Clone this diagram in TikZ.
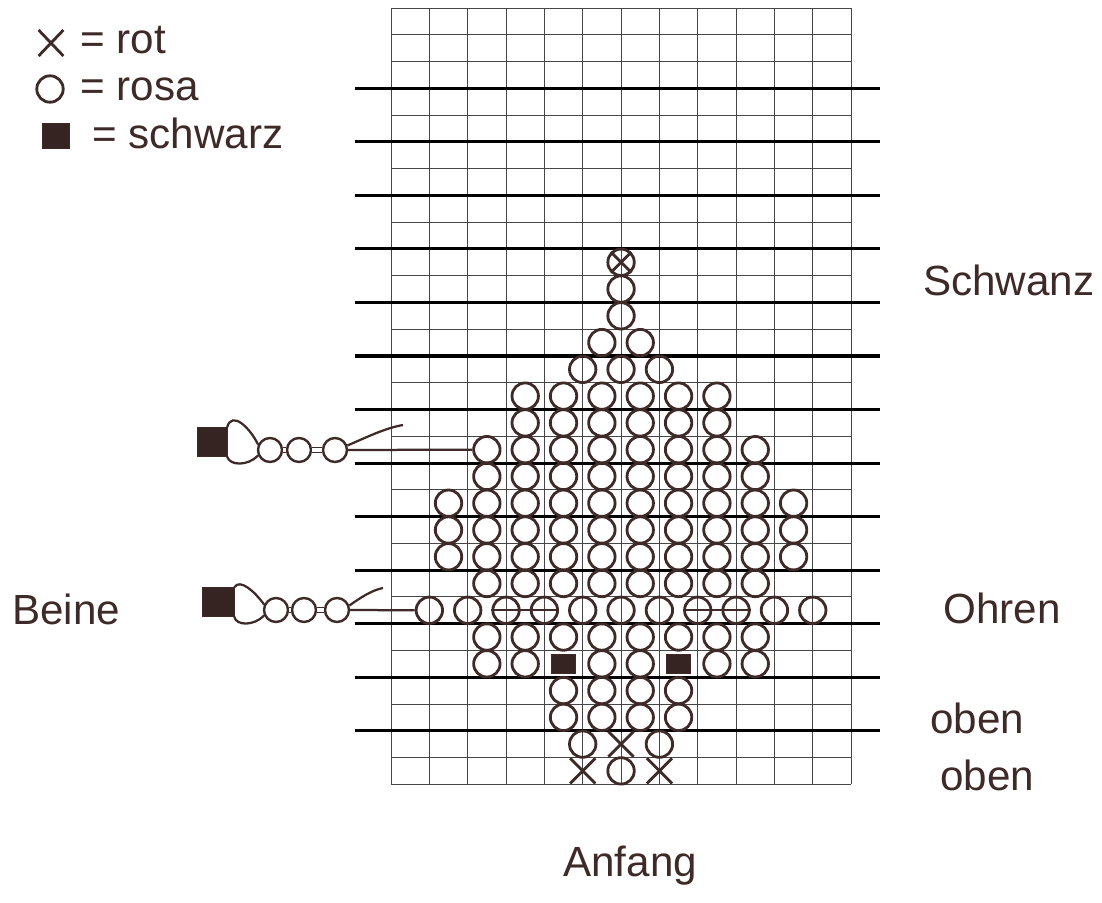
\documentclass[tikz,border=0pt]{standalone}
\usepackage{fontspec}
\setmainfont{Liberation Sans}
\usetikzlibrary{shapes.misc}
\definecolor{Ink}{RGB}{62,42,40}
\definecolor{GridGray}{RGB}{70,70,70}
\tikzset{
  rosa/.style={circle, draw=Ink, line width=2pt, minimum size=0.66cm, inner sep=0pt},
  rot/.style={cross out, draw=Ink, line width=2pt, minimum width=0.56cm, minimum height=0.56cm, inner sep=0pt},
  schwarz/.style={rectangle, draw=Ink, fill=Ink!85!black, minimum width=0.6cm, minimum height=0.46cm, inner sep=0pt},
  legbead/.style={circle, draw=Ink, line width=1.7pt, minimum size=0.6cm, inner sep=0pt},
  thread/.style={draw=Ink, line width=1.6pt},
  link/.style={draw=Ink, double=white, double distance=2.4pt, line width=1pt},
  hand/.style={font=\fontsize{30pt}{36pt}\selectfont, text=Ink, inner sep=0pt, anchor=base west},
  gridline/.style={draw=GridGray, line width=0.6pt},
  rowline/.style={draw=black, line width=2.2pt}
}
\begin{document}
\begin{tikzpicture}[x=0.025cm, y=-0.025cm]
  \path[fill=white, use as bounding box] (0,0) rectangle (1102,902);

  \begin{scope}[shift={(391,8)}, x=0.9583cm, y=-0.669cm]
    \foreach \k in {0,...,12} \draw[gridline] (\k,0) -- (\k,29);
    \foreach \k in {0,...,29} \draw[gridline] (0,\k) -- (12,\k);
    \foreach \k in {3,5,...,27} \draw[rowline] (-0.94,\k) -- (12.76,\k);

    \foreach \r/\a/\b in {12/5/6, 14/3/8, 15/3/8, 16/2/9, 17/2/9, 18/1/10, 19/1/10,
                          20/1/10, 21/2/9, 23/2/9, 25/4/7, 26/4/7}
      \foreach \c in {\a,...,\b}
        \node[rosa] (b\r-\c) at (\c+0.5,\r+0.5) {};
    \foreach \c in {2,3,5,6,8,9} \node[rosa] (b24-\c) at (\c+0.5,24.5) {};
    \foreach \c in {4,7} \node[schwarz] (b24-\c) at (\c+0.5,24.5) {};

    \foreach \r/\a/\b in {10/6/6, 11/6/6, 13/5/7, 22/1/11}
      \foreach \k in {\a,...,\b}
        \node[rosa] (l\r-\k) at (\k,\r+0.5) {};
    \node[rosa] (l9-6) at (6,9.5) {};
    \node[rot, minimum width=0.44cm, minimum height=0.44cm] (x9-6) at (6,9.5) {};
    \node[rosa] (l27-5) at (5,27.5) {};
    \node[rot] (l27-6) at (6,27.5) {};
    \node[rosa] (l27-7) at (7,27.5) {};
    \node[rot] (l28-5) at (5,28.5) {};
    \node[rosa] (l28-6) at (6,28.5) {};
    \node[rot] (l28-7) at (7,28.5) {};

    \draw[thread] (l22-3.west) -- (l22-4.east);
    \draw[thread] (l22-8.west) -- (l22-9.east);
  \end{scope}

  \node[schwarz, minimum width=0.74cm, minimum height=0.72cm] (legAsq) at (212,442) {};
  \node[legbead] (legA1) at (270,450) {};
  \node[legbead] (legA2) at (299,450) {};
  \node[legbead] (legA3) at (335,450) {};
  \coordinate (legAend) at (403,425);
  \draw[link] (legA1) -- (legA2);
  \draw[link] (legA2) -- (legA3);
  \draw[thread] (legAsq.north east) .. controls (232,410) and (250,428) .. (legA1.155);
  \draw[thread] (legAsq.south east) .. controls (230,466) and (248,466) .. (legA1.205);
  \draw[thread] (legA3.20) .. controls (365,438) and (385,428) .. (legAend);
  \draw[thread] (legA3.east) -- (b16-2.west);

  \node[schwarz, minimum width=0.8cm, minimum height=0.72cm] (legBsq) at (218,602) {};
  \node[legbead] (legB1) at (276,610) {};
  \node[legbead] (legB2) at (304,610) {};
  \node[legbead] (legB3) at (337,610) {};
  \coordinate (legBend) at (383,588);
  \draw[link] (legB1) -- (legB2);
  \draw[link] (legB2) -- (legB3);
  \draw[thread] (legBsq.north east) .. controls (240,578) and (255,592) .. (legB1.155);
  \draw[thread] (legBsq.south east) .. controls (236,626) and (254,626) .. (legB1.205);
  \draw[thread] (legB3.20) .. controls (360,598) and (372,590) .. (legBend);
  \draw[thread] (legB3.east) -- (l22-1.west);

  \node[rot, minimum width=0.55cm, minimum height=0.58cm] (keyrot) at (51,43) {};
  \node[hand] (keyrottext) at (80,53) {= rot};
  \node[rosa] (keyrosa) at (50,89) {};
  \node[hand] (keyrosatext) at (80,100) {= rosa};
  \node[schwarz, minimum width=0.68cm, minimum height=0.62cm] (keyschwarz) at (56,136) {};
  \node[hand] (keyschwarztext) at (92,148) {= schwarz};

  \node[hand] (schwanz) at (923,295) {Schwanz};
  \node[hand] (ohren) at (943,623) {Ohren};
  \node[hand] (oben1) at (930,733) {oben};
  \node[hand] (oben2) at (940,790) {oben};
  \node[hand] (anfang) at (563,876) {Anfang};
  \node[hand] (beine) at (12,624) {Beine};
\end{tikzpicture}
\end{document}
